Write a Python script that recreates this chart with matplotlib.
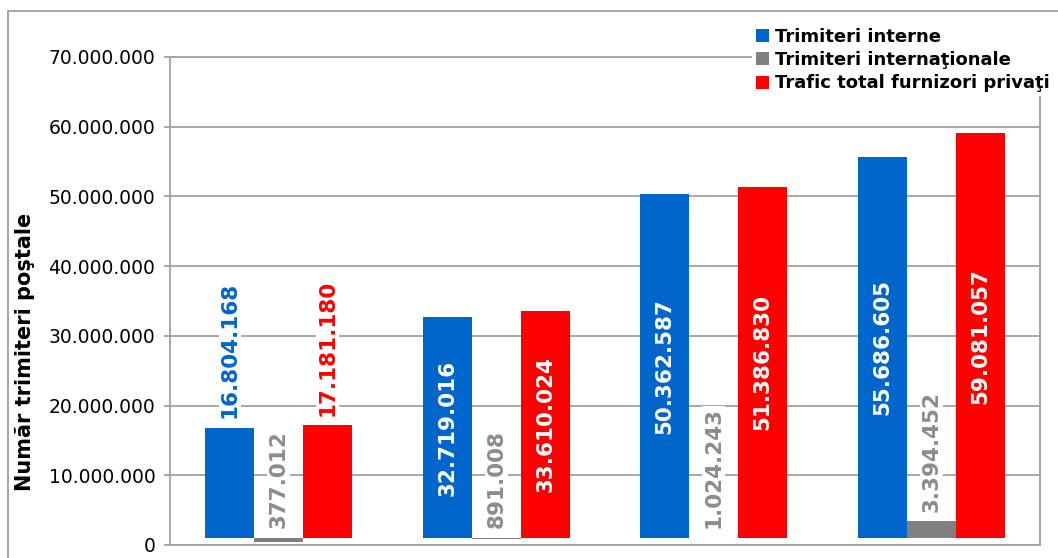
import numpy as np
import matplotlib.pyplot as plt
from matplotlib.patches import Rectangle
from matplotlib.ticker import FuncFormatter, MultipleLocator

# valori
interne = [16804168, 32719016, 50362587, 55686605]
internationale = [377012, 891008, 1024243, 3394452]
privati = [17181180, 33610024, 51386830, 59081057]

serii = ["Trimiteri interne", "Trimiteri internaţionale", "Trafic total furnizori privaţi"]
culori = ["#0066CC", "#808080", "#FF0000"]
culori_text = ["#0066CC", "#8C8C8C", "#FF0000"]

baza = 1000000   # axa orizontala taie la 1.000.000 (ca in Excel)
gri = "#A0A0A0"


def fmt(v):
    return f"{int(v):,}".replace(",", ".")


plt.rcParams['font.family'] = ['DejaVu Sans']

fig = plt.figure(figsize=(10.58, 5.58), dpi=100)
ax = fig.add_axes([170 / 1058, 13 / 558, 870 / 1058, 488 / 558])

x = np.arange(len(interne))
w = 0.225
date = [interne, internationale, privati]

for i, (vals, c, ct) in enumerate(zip(date, culori, culori_text)):
    xs = x + (i - 1) * w
    vals = np.array(vals)
    ax.bar(xs, vals - baza, bottom=baza, width=w, color=c, label=serii[i], zorder=3)
    for xc, v in zip(xs, vals):
        if i != 1 and v > 25e6:
            ax.text(xc, (v + baza) / 2, fmt(v), rotation=90, ha="center", va="center",
                    color="white", fontsize=15.5, fontweight="bold", zorder=4)
        else:
            ax.annotate(fmt(v), (xc, max(v, baza)), xytext=(0, 7), textcoords="offset points",
                        rotation=90, ha="center", va="bottom", color=ct,
                        fontsize=15.5, fontweight="bold", zorder=4,
                        bbox=dict(facecolor="white", edgecolor="none", pad=1))

ax.set_xlim(-0.5, 3.5)
ax.set_ylim(0, 70000000)
ax.yaxis.set_major_locator(MultipleLocator(10000000))
ax.yaxis.set_major_formatter(FuncFormatter(lambda v, p: fmt(v)))
ax.grid(axis="y", color=gri, linewidth=1.3, zorder=0)
ax.set_axisbelow(True)
for s in ax.spines.values():
    s.set_color(gri)
    s.set_linewidth(1.3)
ax.tick_params(axis="y", length=4.5, color=gri, width=1.3, labelsize=13.5, pad=6)
ax.tick_params(axis="x", length=0, labelbottom=False)

fig.text(25 / 1058, 1 - 352 / 558, "Număr trimiteri poştale", rotation=90,
         ha="center", va="center", fontsize=15, fontweight="bold")

fig.legend(loc="upper left", bbox_to_anchor=(743 / 1058, 1 - 15 / 558),
           prop={"weight": "bold", "size": 13},
           handlelength=0.75, handleheight=0.75, handletextpad=0.3,
           labelspacing=0.3, borderpad=0.2, frameon=True, facecolor="white",
           edgecolor="none", framealpha=1, fancybox=False)

fig.patches.append(Rectangle((8 / 1058, -0.5), 2, 1.5 - 11 / 558, transform=fig.transFigure,
                             fill=False, edgecolor=gri, linewidth=1.3))

fig.savefig("out.png", dpi=100)
